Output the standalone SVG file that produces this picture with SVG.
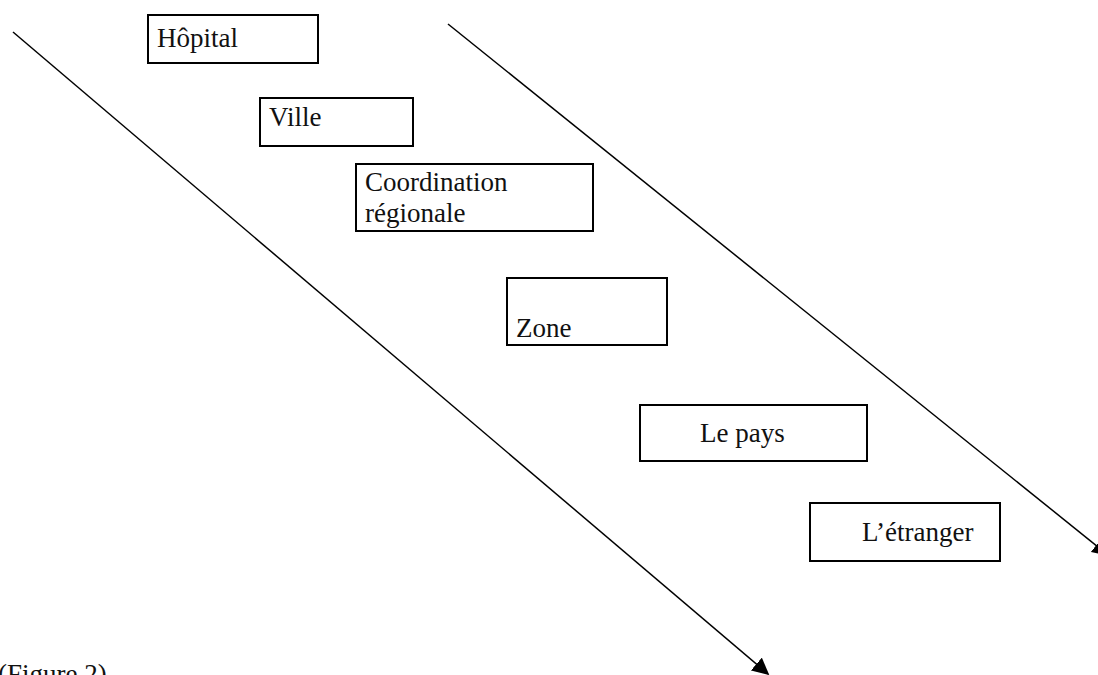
<svg xmlns="http://www.w3.org/2000/svg" width="1098" height="675" viewBox="0 0 1098 675">
  <style>
    .box { fill: #ffffff; stroke: #000000; stroke-width: 2; }
    .lbl { font-family: "Liberation Serif", "Times New Roman", serif; font-size: 27px; fill: #111111; }
    .conn { stroke: #000000; stroke-width: 1.5; fill: none; marker-end: url(#arrow); }
  </style>
  <defs>
    <marker id="arrow" viewBox="0 0 10 10" refX="9" refY="5" markerWidth="17" markerHeight="17" markerUnits="userSpaceOnUse" orient="auto">
      <path d="M0,0 L10,5 L0,10 z" fill="#000000"/>
    </marker>
  </defs>
  <rect width="1098" height="675" fill="#ffffff"/>
  <g id="connectors">
    <line class="conn" x1="13" y1="32" x2="768" y2="674"/>
    <line class="conn" x1="448" y1="24" x2="1108" y2="555"/>
  </g>
  <g id="node-hopital">
    <rect class="box" x="148" y="15" width="170" height="48"/>
    <text class="lbl" x="157" y="47">Hôpital</text>
  </g>
  <g id="node-ville">
    <rect class="box" x="260" y="98" width="153" height="48"/>
    <text class="lbl" x="269" y="126">Ville</text>
  </g>
  <g id="node-coordination">
    <rect class="box" x="356" y="164" width="237" height="67"/>
    <text class="lbl" x="365" y="191">Coordination</text>
    <text class="lbl" x="365" y="222">régionale</text>
  </g>
  <g id="node-zone">
    <rect class="box" x="507" y="278" width="160" height="67"/>
    <text class="lbl" x="516" y="337">Zone</text>
  </g>
  <g id="node-pays">
    <rect class="box" x="640" y="405" width="227" height="56"/>
    <text class="lbl" x="700" y="442">Le pays</text>
  </g>
  <g id="node-etranger">
    <rect class="box" x="810" y="503" width="190" height="58"/>
    <text class="lbl" x="862" y="541">L’étranger</text>
  </g>
  <text class="lbl" x="-2" y="683">(Figure 2)</text>
</svg>
